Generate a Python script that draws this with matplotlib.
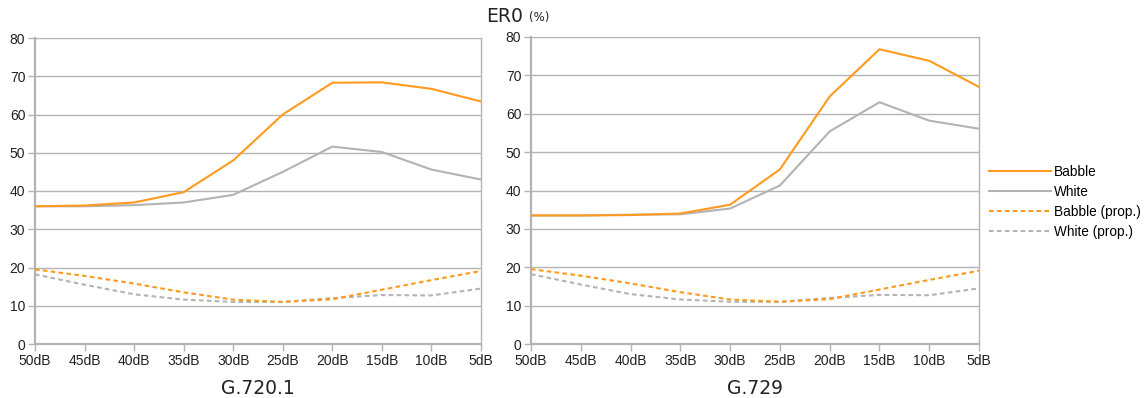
import matplotlib
matplotlib.use("Agg")
import matplotlib.pyplot as plt
from matplotlib.lines import Line2D

snr_labels = ["50dB", "45dB", "40dB", "35dB", "30dB", "25dB", "20dB", "15dB", "10dB", "5dB"]

g7201_babble = [36.0, 36.2, 37.0, 39.7, 48.0, 60.0, 68.3, 68.4, 66.7, 63.4]
g7201_white = [36.0, 36.0, 36.3, 37.0, 39.0, 45.0, 51.6, 50.2, 45.6, 43.0]
g7201_babble_prop = [19.5, 17.8, 15.8, 13.5, 11.6, 11.0, 11.7, 14.2, 16.7, 19.1]
g7201_white_prop = [18.2, 15.5, 13.0, 11.6, 11.0, 11.0, 12.0, 12.8, 12.7, 14.5]

g729_babble = [33.5, 33.5, 33.6, 34.0, 36.3, 45.5, 64.5, 76.8, 73.8, 67.0]
g729_white = [33.5, 33.5, 33.7, 33.8, 35.3, 41.3, 55.4, 63.0, 58.2, 56.1]
g729_babble_prop = [19.5, 17.8, 15.8, 13.5, 11.6, 11.0, 11.7, 14.2, 16.7, 19.1]
g729_white_prop = [18.2, 15.5, 13.0, 11.6, 11.0, 11.0, 12.0, 12.8, 12.7, 14.5]

ORANGE = "#ff9a1f"
GRAY = "#b3b3b3"
GRID = "#b3b3b3"
LW = 1.5
DASH = (0, (2.2, 1.6))

fig = plt.figure(figsize=(11.46, 3.98), dpi=100)
ax1 = fig.add_axes([35 / 1146, 1 - 344 / 398, 446 / 1146, 306 / 398])
ax2 = fig.add_axes([531 / 1146, 1 - 344 / 398, 448 / 1146, 307 / 398])

panels = [
    (ax1, "G.720.1", g7201_babble, g7201_white, g7201_babble_prop, g7201_white_prop),
    (ax2, "G.729", g729_babble, g729_white, g729_babble_prop, g729_white_prop),
]

x = list(range(len(snr_labels)))
for ax, name, bab, wht, babp, whtp in panels:
    ax.plot(x, bab, color=ORANGE, lw=LW, zorder=4)
    ax.plot(x, wht, color=GRAY, lw=LW, zorder=3)
    ax.plot(x, babp, color=ORANGE, lw=LW, ls=DASH, zorder=4)
    ax.plot(x, whtp, color=GRAY, lw=LW, ls=DASH, zorder=3)
    ax.set_xlim(0, len(snr_labels) - 1)
    ax.set_ylim(0, 80)
    ax.set_yticks(range(0, 81, 10))
    ax.set_xticks(x)
    ax.set_xticklabels(snr_labels, family="Liberation Sans", fontsize=10, color="#222222")
    for lbl in ax.get_yticklabels():
        lbl.set_family("Liberation Sans")
        lbl.set_fontsize(10)
        lbl.set_color("#222222")
    ax.grid(axis="y", color=GRID, lw=1.0, zorder=0)
    for side in ["left", "right", "bottom"]:
        ax.spines[side].set_color(GRID)
        ax.spines[side].set_linewidth(1.0)
    ax.spines["left"].set_linewidth(1.6)
    ax.spines["bottom"].set_linewidth(1.6)
    ax.spines["top"].set_visible(False)
    ax.tick_params(axis="both", color=GRID, length=5, width=1.0, pad=2)
    ax.set_xlabel(name, family="DejaVu Sans", fontsize=13.5, color="#222222", labelpad=8)

fig.text(523 / 1146, 1 - 17 / 398, "ER0", ha="right", va="center",
         family="DejaVu Sans", fontsize=13.5, color="#222222")
fig.text(529 / 1146, 1 - 17 / 398, "(%)", ha="left", va="center",
         family="DejaVu Sans", fontsize=8.5, color="#222222")

handles = [
    Line2D([], [], color=ORANGE, lw=LW),
    Line2D([], [], color=GRAY, lw=LW),
    Line2D([], [], color=ORANGE, lw=LW, ls=DASH),
    Line2D([], [], color=GRAY, lw=LW, ls=DASH),
]
fig.legend(handles, ["Babble", "White", "Babble (prop.)", "White (prop.)"],
           loc="center left", bbox_to_anchor=(984 / 1146, 1 - 202 / 398),
           frameon=False, handlelength=4.5, handletextpad=0.25, labelspacing=0.45,
           borderpad=0.2, borderaxespad=0.2, prop={"family": "Liberation Sans", "size": 9.8})

fig.savefig("out.png", dpi=100)
